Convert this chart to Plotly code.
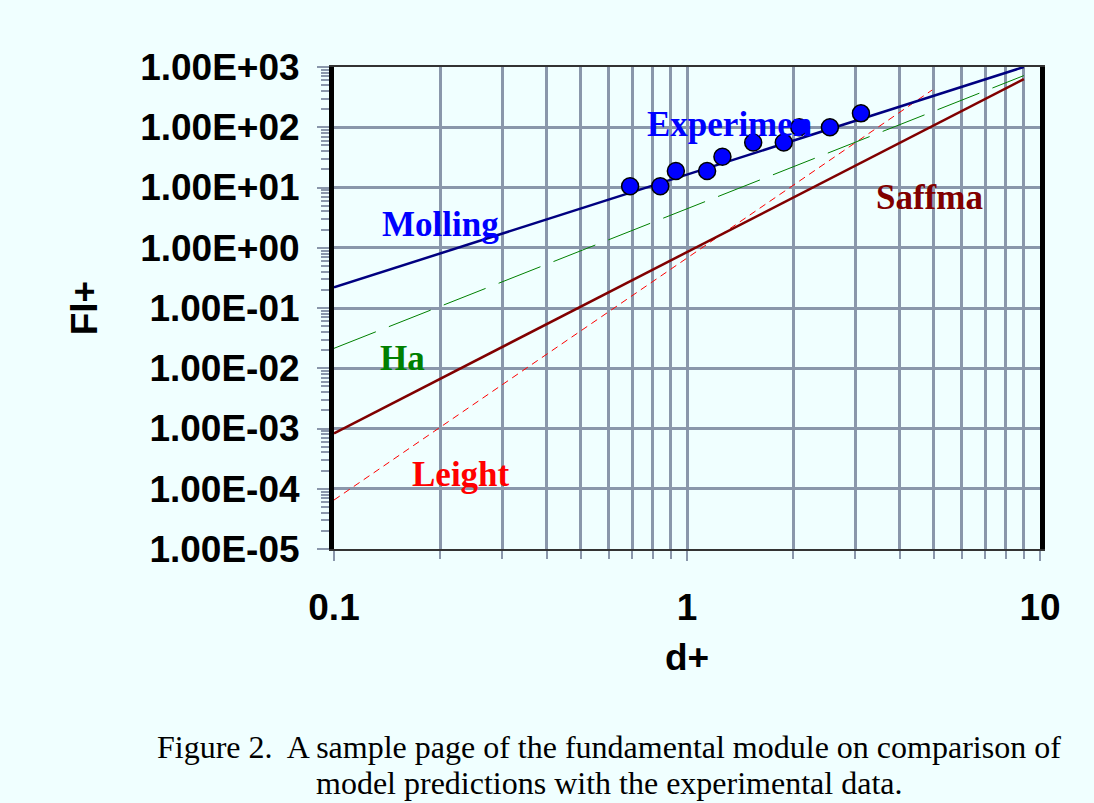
import plotly.graph_objects as go

# ---- data ----
exp_x = [0.69, 0.84, 0.93, 1.14, 1.26, 1.54, 1.88, 2.08, 2.54, 3.11]
exp_y = [10.5, 10.5, 18.8, 18.8, 32.4, 56, 56, 100, 100, 170]

molling_x = [0.1, 9]
molling_y = [0.22, 1000]
ha_x = [0.1, 9]
ha_y = [0.0214, 720]
saffman_x = [0.1, 9]
saffman_y = [8.3e-4, 630]
leighton_x = [0.1, 4.95]
leighton_y = [6.5e-5, 415]

y_tickvals = [1e3, 1e2, 1e1, 1e0, 1e-1, 1e-2, 1e-3, 1e-4, 1e-5]
y_ticktext = ["1.00E+03", "1.00E+02", "1.00E+01", "1.00E+00", "1.00E-01",
              "1.00E-02", "1.00E-03", "1.00E-04", "1.00E-05"]
x_tickvals = [0.1, 1, 10]
x_ticktext = ["0.1", "1", "10"]

caption_lines = [
    "Figure 2.&nbsp; A sample page of the fundamental module on comparison of",
    "model predictions with the experimental data.",
]

BG = "#F0FFFF"
GRID = "#8A97AB"
SANS = "Liberation Sans"
SERIF = "Liberation Serif"

fig = go.Figure()
fig.add_trace(go.Scatter(x=leighton_x, y=leighton_y, mode="lines",
                         line=dict(color="#FF0000", width=1, dash="7px,5px"), name="Leighton"))
fig.add_trace(go.Scatter(x=ha_x, y=ha_y, mode="lines",
                         line=dict(color="#008000", width=1, dash="45px,14px"), name="Ha"))
fig.add_trace(go.Scatter(x=saffman_x, y=saffman_y, mode="lines",
                         line=dict(color="#800000", width=2.5), name="Saffman"))
fig.add_trace(go.Scatter(x=molling_x, y=molling_y, mode="lines",
                         line=dict(color="#000080", width=2.5), name="Molling"))
fig.add_trace(go.Scatter(x=exp_x, y=exp_y, mode="markers",
                         marker=dict(color="#0000FF", size=17, line=dict(color="black", width=1.5)),
                         name="Experiment"))

fig.update_layout(
    width=1094, height=803,
    margin=dict(l=334, r=54, t=67, b=254),
    paper_bgcolor=BG, plot_bgcolor=BG,
    showlegend=False,
    xaxis=dict(
        type="log", range=[-1, 1],
        tickvals=x_tickvals, ticktext=x_ticktext,
        tickfont=dict(family=SANS, size=37, color="black", weight="bold"),
        showgrid=True, gridcolor=GRID, gridwidth=3,
        ticks="outside", ticklen=10, tickwidth=2, tickcolor=GRID,
        ticklabelstandoff=15,
        minor=dict(dtick="D1", showgrid=True, gridcolor=GRID, gridwidth=3,
                   ticks="outside", ticklen=8, tickwidth=2, tickcolor=GRID),
        showline=True, linecolor="#333333", linewidth=2, mirror=True,
        zeroline=False,
        title=dict(text="d+", font=dict(family=SANS, size=37, color="black", weight="bold"),
                   standoff=17),
    ),
    yaxis=dict(
        type="log", range=[-5, 3],
        tickvals=y_tickvals, ticktext=y_ticktext,
        tickfont=dict(family=SANS, size=37, color="black", weight="bold"),
        showgrid=True, gridcolor=GRID, gridwidth=3,
        ticks="outside", ticklen=12, tickwidth=2, tickcolor=GRID,
        ticklabelstandoff=10,
        minor=dict(dtick="D1", showgrid=False,
                   ticks="outside", ticklen=8, tickwidth=2, tickcolor=GRID),
        showline=True, linecolor="black", linewidth=5, mirror=True,
        zeroline=False,
        title=dict(text="Fl+", font=dict(family=SANS, size=37, color="black", weight="bold"),
                   standoff=33),
    ),
)

lab_font = dict(family=SERIF, size=35, weight="bold")
labels = [
    ("Molling", -0.697, 0.378, "#0000FF"),
    ("Experimen", 0.119, 2.04, "#0000FF"),
    ("Saffma", 0.686, 0.842, "#800000"),
    ("Ha", -0.807, -1.83, "#008000"),
    ("Leight", -0.640, -3.77, "#FF0000"),
]
for txt, lx, ly, col in labels:
    fig.add_annotation(x=lx, y=ly, xref="x", yref="y", text=txt, showarrow=False,
                       font=dict(color=col, **lab_font), xanchor="center", yanchor="middle")

for line_txt, cy in zip(caption_lines, [-0.4108, -0.4850]):
    fig.add_annotation(
        xref="paper", yref="paper", x=0.3895, y=cy, text=line_txt,
        showarrow=False, xanchor="center", yanchor="middle",
        font=dict(family=SERIF, size=32, color="black"),
    )

fig.write_html(
    "out.html",
    config={"displayModeBar": False},
    post_script="document.body.style.margin='0';document.body.style.background='#F0FFFF';",
)
